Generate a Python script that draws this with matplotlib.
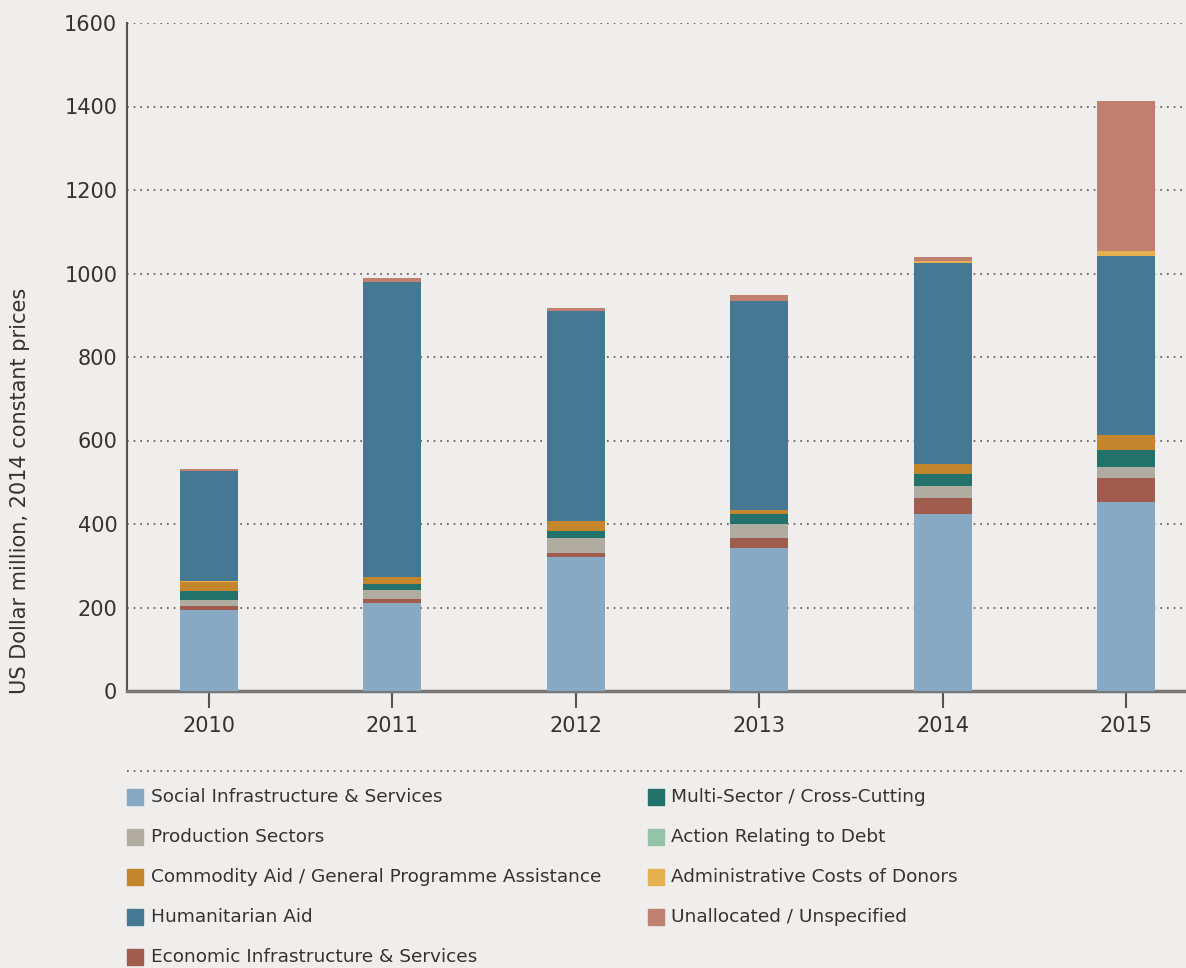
import matplotlib.pyplot as plt

years = ['2010', '2011', '2012', '2013', '2014', '2015']

social = [194, 211, 321, 343, 424, 453]
economic = [10, 9, 10, 23, 38, 57]
production = [14, 22, 36, 34, 29, 27]
multi = [21, 14, 17, 24, 29, 40]
commodity = [22, 17, 22, 10, 24, 36]
debt = [0, 0, 0, 0, 0, 0]
admin_pre = [2, 0, 0, 0, 0, 0]
humanitarian = [263, 707, 503, 500, 481, 429]
admin = [0, 0, 0, 0, 5, 12]
unallocated = [5, 9, 9, 14, 9, 359]

bg = '#efeeec'
c_social = '#87a9c3'
c_econ = '#a05c4c'
c_prod = '#b0ada0'
c_multi = '#23716b'
c_comm = '#c4862c'
c_debt = '#93c3a8'
c_admin = '#e6b050'
c_hum = '#457893'
c_unal = '#c08070'

plt.rcParams['font.family'] = ['DejaVu Sans']

fig = plt.figure(figsize=(11.86, 9.68), dpi=100, facecolor=bg)
ax = fig.add_axes([127 / 1186, 1 - 691 / 968, 1 - 127 / 1186, (691 - 23) / 968])
ax.set_facecolor(bg)

x = list(range(len(years)))
w = 0.316
stack = [
    (social, c_social), (economic, c_econ), (production, c_prod),
    (multi, c_multi), (commodity, c_comm), (debt, c_debt), (admin_pre, c_admin),
    (humanitarian, c_hum), (admin, c_admin), (unallocated, c_unal),
]
bottom = [0] * len(years)
for vals, col in stack:
    ax.bar(x, vals, w, bottom=bottom, color=col, zorder=3)
    bottom = [b + v for b, v in zip(bottom, vals)]

ax.set_xlim(-0.447, 5.327)
ax.set_ylim(0, 1600)
ax.set_yticks(range(0, 1601, 200))
ax.yaxis.grid(True, linestyle=(0, (1, 3)), color='#555555', linewidth=1.2)
ax.set_axisbelow(True)
for s in ['top', 'right']:
    ax.spines[s].set_visible(False)
ax.spines['left'].set_color('#555555')
ax.spines['left'].set_linewidth(1.5)
ax.spines['bottom'].set_color('#777777')
ax.spines['bottom'].set_linewidth(2.5)
ax.tick_params(axis='y', length=0, pad=7, labelsize=15, labelcolor='#333333')
ax.tick_params(axis='x', length=12, width=1.5, color='#555555', pad=6,
               labelsize=15, labelcolor='#333333')
ax.set_xticks(x)
ax.set_xticklabels(years)

fig.text(20 / 1186, 1 - 491 / 968, 'US Dollar million, 2014 constant prices',
         rotation=90, ha='center', va='center', fontsize=15, color='#333333')

# dotted separator above legend
fig.add_artist(plt.Line2D([127 / 1186, 1], [1 - 771 / 968] * 2,
                          linestyle=(0, (1, 3)), color='#555555', linewidth=1.2))

left_items = [
    ('Social Infrastructure & Services', c_social),
    ('Production Sectors', c_prod),
    ('Commodity Aid / General Programme Assistance', c_comm),
    ('Humanitarian Aid', c_hum),
    ('Economic Infrastructure & Services', c_econ),
]
right_items = [
    ('Multi-Sector / Cross-Cutting', c_multi),
    ('Action Relating to Debt', c_debt),
    ('Administrative Costs of Donors', c_admin),
    ('Unallocated / Unspecified', c_unal),
]
rows_y = [797, 837, 877, 917, 957]
for items, px, tx in [(left_items, 127, 151), (right_items, 648, 671)]:
    for (label, col), yy in zip(items, rows_y):
        fig.add_artist(plt.Rectangle((px / 1186, 1 - (yy + 8) / 968), 16 / 1186, 16 / 968,
                                     color=col, transform=fig.transFigure))
        fig.text(tx / 1186, 1 - yy / 968, label, ha='left', va='center',
                 fontsize=13.3, color='#333333')

fig.savefig('out.png', dpi=100, facecolor=bg)
